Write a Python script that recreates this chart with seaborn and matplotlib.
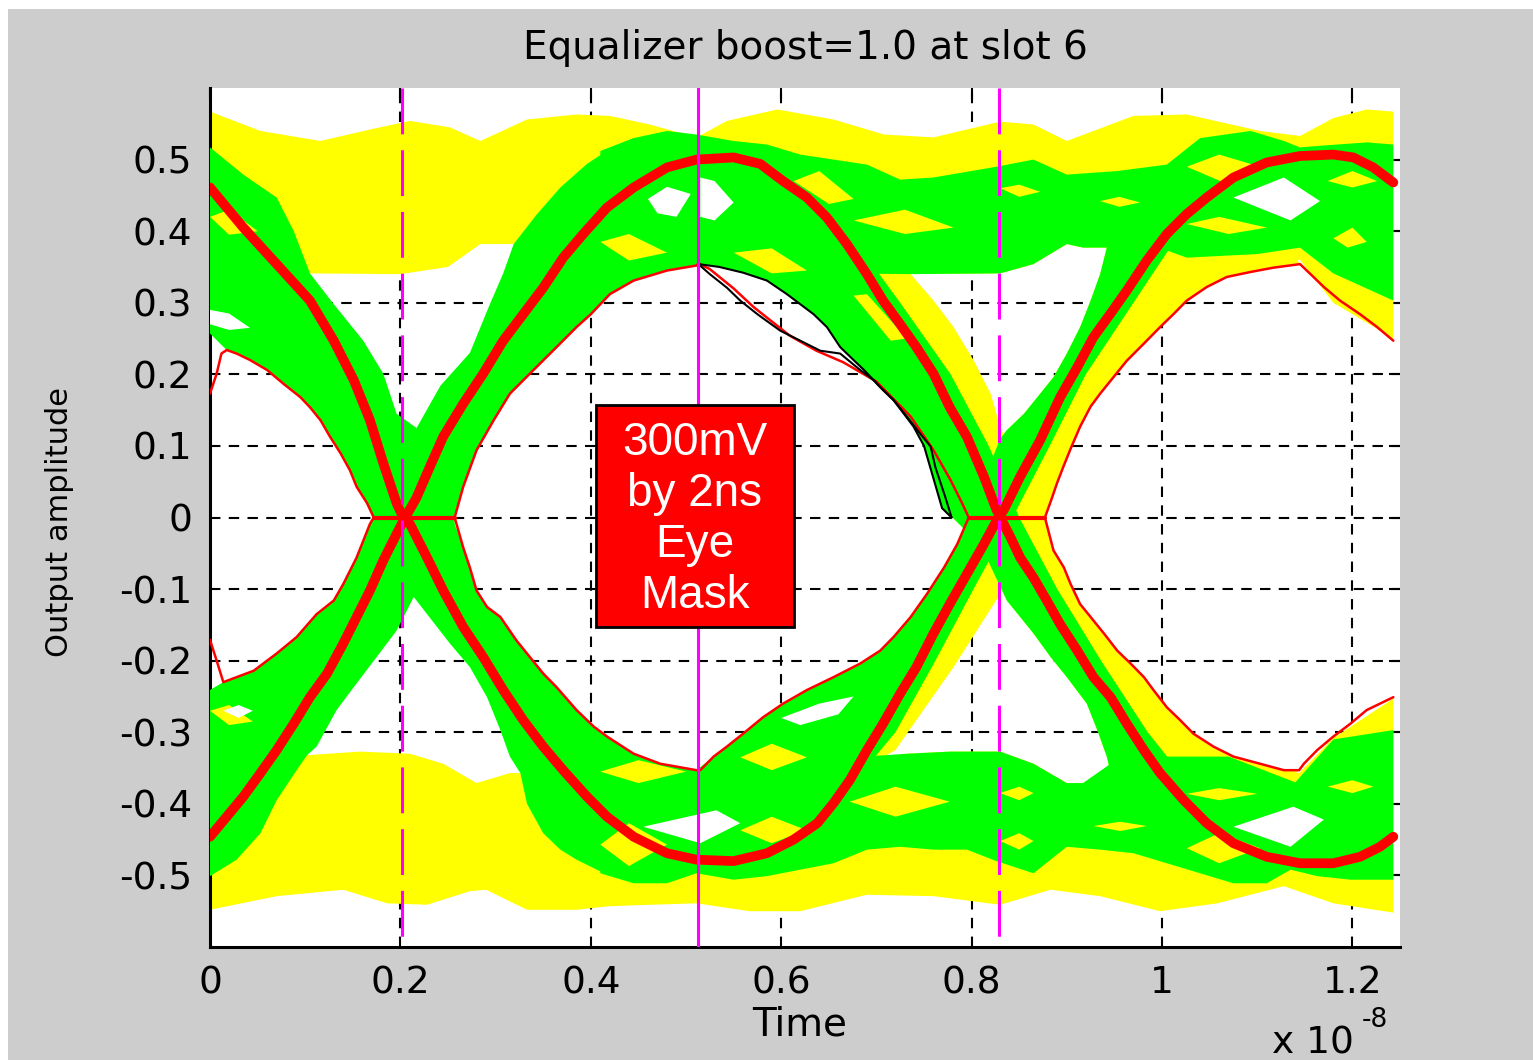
import matplotlib
matplotlib.use("Agg")
import matplotlib.pyplot as plt
from matplotlib.patches import Rectangle
import seaborn as sns

# time axis is in units of 1e-8 s, amplitude in V

# upper rail (yellow) outline: top edge left->right, bottom edge right->left
yu_top_x = [0, 0.053, 0.116, 0.168, 0.21, 0.252, 0.284, 0.333, 0.385, 0.42, 0.462, 0.511, 0.543, 0.596,
            0.655, 0.708, 0.76, 0.83, 0.865, 0.9, 0.97, 1.026, 1.103, 1.145, 1.18, 1.215, 1.243]
yu_top_y = [0.567, 0.54, 0.526, 0.542, 0.554, 0.545, 0.526, 0.556, 0.563, 0.561, 0.549, 0.531, 0.554, 0.57,
            0.556, 0.535, 0.531, 0.553, 0.549, 0.526, 0.561, 0.563, 0.54, 0.533, 0.558, 0.57, 0.567]
yu_bot_x = [1.243, 1.18, 1.145, 1.1, 1.026, 0.99, 0.942, 0.917, 0.9, 0.865, 0.83, 0.736, 0.6, 0.513,
            0.45, 0.4, 0.343, 0.319, 0.284, 0.25, 0.2, 0.105, 0]
yu_bot_y = [0.25, 0.30, 0.36, 0.355, 0.322, 0.33, 0.377, 0.377, 0.382, 0.354, 0.341, 0.34, 0.36, 0.36,
            0.40, 0.42, 0.40, 0.382, 0.382, 0.35, 0.34, 0.341, 0.341]

# lower rail (yellow)
yl_bot_x = [0, 0.07, 0.14, 0.186, 0.228, 0.273, 0.29, 0.333, 0.385, 0.42, 0.462, 0.511, 0.567, 0.62,
            0.69, 0.76, 0.83, 0.883, 0.935, 0.998, 1.058, 1.128, 1.18, 1.243]
yl_bot_y = [-0.548, -0.529, -0.52, -0.539, -0.541, -0.522, -0.52, -0.548, -0.548, -0.543, -0.541, -0.539,
            -0.55, -0.55, -0.527, -0.529, -0.541, -0.52, -0.529, -0.55, -0.539, -0.515, -0.539, -0.552]
yl_top_x = [1.243, 1.18, 1.144, 1.08, 1.0, 0.946, 0.917, 0.9, 0.865, 0.83, 0.778, 0.732, 0.62, 0.513,
            0.42, 0.326, 0.315, 0.28, 0.245, 0.21, 0.158, 0.102, 0]
yl_top_y = [-0.253, -0.308, -0.357, -0.34, -0.31, -0.357, -0.371, -0.371, -0.344, -0.327, -0.327, -0.33,
            -0.36, -0.36, -0.36, -0.357, -0.357, -0.371, -0.344, -0.33, -0.327, -0.332, -0.332]

# upper green band (right part)
gu_top_x = [0.41, 0.445, 0.48, 0.511, 0.55, 0.585, 0.62, 0.655, 0.69, 0.725, 0.76, 0.826, 0.865, 0.9,
            0.953, 1.005, 1.04, 1.093, 1.128, 1.145, 1.163, 1.215, 1.243]
gu_top_y = [0.512, 0.53, 0.54, 0.535, 0.526, 0.521, 0.507, 0.5, 0.493, 0.472, 0.475, 0.49, 0.5, 0.479,
            0.484, 0.493, 0.53, 0.54, 0.526, 0.517, 0.519, 0.524, 0.521]
gu_bot_x = [1.243, 1.18, 1.145, 1.1, 1.026, 0.97, 0.942, 0.917, 0.9, 0.865, 0.83, 0.736, 0.56, 0.535,
            0.513, 0.511, 0.48, 0.445, 0.41]
gu_bot_y = [0.303, 0.341, 0.377, 0.368, 0.363, 0.39, 0.377, 0.377, 0.382, 0.354, 0.341, 0.34, 0.342, 0.35,
            0.355, 0.352, 0.345, 0.331, 0.303]

# lower green band (right part)
gl_bot_x = [0.41, 0.445, 0.48, 0.511, 0.55, 0.585, 0.62, 0.655, 0.69, 0.725, 0.76, 0.795, 0.826, 0.865,
            0.9, 0.935, 0.97, 1.005, 1.04, 1.075, 1.11, 1.135, 1.163, 1.198, 1.243]
gl_bot_y = [-0.497, -0.511, -0.511, -0.497, -0.506, -0.501, -0.492, -0.483, -0.464, -0.46, -0.464, -0.464,
            -0.48, -0.497, -0.46, -0.464, -0.469, -0.483, -0.497, -0.511, -0.511, -0.492, -0.501, -0.506, -0.506]
gl_top_x = [1.243, 1.18, 1.14, 1.07, 1.0, 0.946, 0.917, 0.9, 0.865, 0.83, 0.778, 0.732, 0.62, 0.513,
            0.511, 0.473, 0.445, 0.417, 0.41]
gl_top_y = [-0.297, -0.31, -0.37, -0.334, -0.334, -0.344, -0.371, -0.371, -0.344, -0.327, -0.327, -0.33,
            -0.34, -0.353, -0.353, -0.344, -0.33, -0.306, -0.30]

# first crossing, falling bundle (green)
lf_x = [0, 0, 0.0175, 0.028, 0.042, 0.06, 0.077, 0.095, 0.105, 0.116, 0.126, 0.137, 0.147, 0.154, 0.165,
        0.172, 0.19, 0.214, 0.228, 0.252, 0.273, 0.291, 0.305, 0.315, 0.326, 0.333, 0.35, 0.368, 0.385, 0.42,
        0.511, 0.511, 0.473, 0.445, 0.417, 0.403, 0.385, 0.364, 0.35, 0.336, 0.322, 0.305, 0.291, 0.28, 0.273,
        0.266, 0.257, 0.257, 0.24, 0.225, 0.217, 0.196, 0.182, 0.161, 0.13, 0.105, 0.088, 0.07, 0.035]
lf_y = [0.517, 0.257, 0.234, 0.229, 0.22, 0.206, 0.187, 0.168, 0.154, 0.136, 0.113, 0.09, 0.066, 0.043, 0.02,
        0.0, -0.05, -0.111, -0.135, -0.176, -0.209, -0.251, -0.297, -0.334, -0.357, -0.4, -0.441, -0.464,
        -0.478, -0.501, -0.45, -0.353, -0.344, -0.33, -0.306, -0.292, -0.269, -0.237, -0.218, -0.195, -0.172,
        -0.139, -0.125, -0.102, -0.07, -0.042, -0.009, 0.0, 0.043, 0.09, 0.125, 0.145, 0.201, 0.247, 0.298,
        0.341, 0.4, 0.447, 0.479]

# first crossing, rising bundle (green)
lr_x = [0, 0, 0.014, 0.046, 0.07, 0.091, 0.112, 0.13, 0.14, 0.154, 0.168, 0.172, 0.19, 0.217, 0.242, 0.273,
        0.294, 0.308, 0.319, 0.343, 0.368, 0.396, 0.42, 0.445, 0.445, 0.42, 0.4, 0.385, 0.364, 0.336, 0.315,
        0.298, 0.28, 0.266, 0.257, 0.235, 0.214, 0.196, 0.175, 0.151, 0.133, 0.112, 0.102, 0.091, 0.07, 0.053,
        0.028]
lr_y = [-0.501, -0.241, -0.23, -0.214, -0.19, -0.167, -0.135, -0.116, -0.093, -0.056, -0.009, 0.0, 0.05,
        0.125, 0.184, 0.23, 0.298, 0.341, 0.382, 0.423, 0.461, 0.494, 0.515, 0.53, 0.331, 0.312, 0.284, 0.266,
        0.238, 0.201, 0.173, 0.136, 0.094, 0.043, 0.0, -0.06, -0.111, -0.158, -0.195, -0.237, -0.269, -0.32,
        -0.332, -0.353, -0.395, -0.441, -0.478]

# second crossing, falling bundle: early edge, late edge, green/yellow split
rf_early_x = [0.513, 0.535, 0.56, 0.585, 0.606, 0.62, 0.634, 0.648, 0.662, 0.676, 0.687, 0.704, 0.718, 0.739,
              0.75, 0.757, 0.769, 0.78, 0.81, 0.837, 0.865, 0.883, 0.9, 0.921, 0.932, 0.942, 0.946, 0.99]
rf_early_y = [0.354, 0.35, 0.342, 0.331, 0.312, 0.298, 0.284, 0.266, 0.238, 0.22, 0.206, 0.182, 0.164, 0.127,
              0.1, 0.068, 0.013, 0.0, -0.04, -0.116, -0.162, -0.195, -0.223, -0.26, -0.297, -0.334, -0.357, -0.40]
rf_late_x = [1.1, 1.144, 1.128, 1.103, 1.075, 1.054, 1.033, 1.019, 1.005, 0.991, 0.981, 0.967, 0.953, 0.939,
             0.925, 0.914, 0.904, 0.897, 0.886, 0.879, 0.877, 0.85, 0.83, 0.82, 0.802, 0.781, 0.76, 0.736,
             0.68, 0.6]
rf_late_y = [-0.40, -0.353, -0.353, -0.344, -0.334, -0.32, -0.302, -0.283, -0.265, -0.241, -0.223, -0.204,
             -0.186, -0.162, -0.139, -0.121, -0.093, -0.07, -0.046, -0.005, 0.0, 0.06, 0.127, 0.173, 0.22,
             0.266, 0.303, 0.34, 0.42, 0.45]
rf_mid_x = [1.045, 0.985, 0.936, 0.89, 0.85, 0.818, 0.778, 0.725, 0.67, 0.62]
rf_mid_y = [-0.40, -0.30, -0.20, -0.10, 0.0, 0.10, 0.20, 0.30, 0.40, 0.47]

# second crossing, rising bundle
rr_early_x = [0.511, 0.529, 0.543, 0.56, 0.581, 0.602, 0.627, 0.655, 0.683, 0.704, 0.718, 0.736, 0.753, 0.771,
              0.785, 0.797, 0.815, 0.83, 0.837, 0.855, 0.869, 0.886, 0.9, 0.914, 0.925, 0.935, 0.942, 1.0]
rr_early_y = [-0.353, -0.334, -0.32, -0.302, -0.279, -0.26, -0.241, -0.223, -0.204, -0.186, -0.167, -0.139,
              -0.107, -0.07, -0.037, 0.0, 0.06, 0.11, 0.122, 0.145, 0.168, 0.196, 0.229, 0.266, 0.303, 0.34,
              0.377, 0.44]
rr_late_x = [1.1, 1.145, 1.117, 1.093, 1.068, 1.047, 1.026, 1.012, 0.998, 0.981, 0.963, 0.949, 0.935, 0.925,
             0.914, 0.904, 0.897, 0.89, 0.883, 0.877, 0.855, 0.83, 0.781, 0.732, 0.72, 0.70, 0.6]
rr_late_y = [0.44, 0.354, 0.349, 0.343, 0.336, 0.322, 0.303, 0.284, 0.266, 0.243, 0.219, 0.196, 0.173, 0.155,
             0.127, 0.096, 0.073, 0.049, 0.022, 0.0, -0.05, -0.107, -0.209, -0.302, -0.325, -0.34, -0.36]
rr_mid_x = [1.07, 1.02, 0.97, 0.92, 0.882, 0.843, 0.802, 0.762, 0.72, 0.67, 0.6]
rr_mid_y = [0.46, 0.40, 0.30, 0.20, 0.10, 0.0, -0.10, -0.20, -0.30, -0.38, -0.38]

# yellow streaks inside the green traces and white gaps
streak_x = [[1.026, 1.06, 1.103, 1.07], [1.174, 1.2, 1.226, 1.2], [1.026, 1.06, 1.11, 1.07],
            [0.83, 0.85, 0.872, 0.85], [0.935, 0.955, 0.977, 0.955], [1.18, 1.2, 1.215, 1.195],
            [0.613, 0.64, 0.676, 0.65], [0.676, 0.73, 0.781, 0.73], [0.55, 0.59, 0.627, 0.59],
            [0.41, 0.44, 0.48, 0.44], [0.676, 0.69, 0.732, 0.715], [0.557, 0.59, 0.627, 0.59],
            [0.557, 0.59, 0.627, 0.59], [0.672, 0.72, 0.777, 0.72], [0.41, 0.45, 0.5, 0.45],
            [0.41, 0.44, 0.48, 0.44], [0.83, 0.85, 0.865, 0.85], [0.83, 0.85, 0.865, 0.85],
            [0.928, 0.956, 0.984, 0.956], [1.026, 1.06, 1.1, 1.06], [1.026, 1.06, 1.103, 1.06],
            [1.174, 1.2, 1.222, 1.2], [0, 0.02, 0.05, 0.02], [0, 0.02, 0.045, 0.02]]
streak_y = [[0.49, 0.507, 0.49, 0.465], [0.47, 0.484, 0.47, 0.461], [0.41, 0.42, 0.405, 0.396],
            [0.46, 0.465, 0.455, 0.448], [0.442, 0.448, 0.44, 0.434], [0.39, 0.405, 0.385, 0.377],
            [0.47, 0.484, 0.445, 0.438], [0.415, 0.43, 0.405, 0.396], [0.37, 0.376, 0.345, 0.341],
            [0.385, 0.396, 0.37, 0.359], [0.31, 0.312, 0.25, 0.247], [-0.335, -0.316, -0.335, -0.353],
            [-0.437, -0.418, -0.437, -0.455], [-0.397, -0.376, -0.397, -0.418], [-0.355, -0.339, -0.355, -0.371],
            [-0.457, -0.427, -0.457, -0.487], [-0.385, -0.376, -0.385, -0.395], [-0.452, -0.441, -0.452, -0.464],
            [-0.431, -0.425, -0.431, -0.438], [-0.386, -0.378, -0.386, -0.395], [-0.462, -0.441, -0.462, -0.483],
            [-0.376, -0.367, -0.376, -0.385], [0.42, 0.43, 0.40, 0.395], [-0.27, -0.262, -0.285, -0.29]]
hole_x = [[0.46, 0.48, 0.505, 0.49, 0.47], [0.515, 0.53, 0.55, 0.53, 0.515], [1.075, 1.128, 1.166, 1.135],
          [1.075, 1.138, 1.17, 1.135], [0.455, 0.532, 0.557, 0.515], [0.6, 0.64, 0.676, 0.66, 0.62],
          [0, 0.02, 0.042, 0.02, 0], [0.014, 0.03, 0.045, 0.03]]
hole_y = [[0.445, 0.462, 0.452, 0.42, 0.425], [0.475, 0.47, 0.44, 0.415, 0.42], [0.447, 0.475, 0.442, 0.415],
          [-0.432, -0.404, -0.422, -0.46], [-0.432, -0.409, -0.427, -0.455], [-0.28, -0.26, -0.25, -0.275, -0.29],
          [0.29, 0.285, 0.265, 0.262, 0.27], [-0.27, -0.262, -0.27, -0.28]]

# reference traces (thick red)
red_a_x = [0, 0.035, 0.07, 0.105, 0.13, 0.151, 0.168, 0.182, 0.196, 0.203, 0.21, 0.228, 0.245, 0.266, 0.287,
           0.308, 0.329, 0.35, 0.371, 0.396, 0.417, 0.445, 0.48, 0.511, 0.55, 0.585, 0.613, 0.638, 0.655, 0.672,
           0.69, 0.707, 0.725, 0.742, 0.76, 0.777, 0.795, 0.813, 0.826, 0.834, 0.851, 0.872, 0.893, 0.911, 0.928,
           0.946, 0.963, 0.984, 1.005, 1.026, 1.047, 1.075, 1.11, 1.145, 1.18, 1.201, 1.222, 1.243]
red_a_y = [0.461, 0.405, 0.354, 0.303, 0.247, 0.192, 0.136, 0.076, 0.02, 0.0, -0.009, -0.056, -0.102, -0.153,
           -0.195, -0.241, -0.283, -0.32, -0.353, -0.39, -0.418, -0.446, -0.469, -0.478, -0.48, -0.469, -0.45,
           -0.427, -0.399, -0.367, -0.325, -0.288, -0.246, -0.209, -0.162, -0.121, -0.079, -0.037, -0.005, 0.011,
           0.057, 0.108, 0.168, 0.21, 0.252, 0.285, 0.317, 0.359, 0.396, 0.424, 0.447, 0.475, 0.496, 0.505,
           0.507, 0.503, 0.489, 0.468]
red_b_x = [0, 0.0175, 0.035, 0.053, 0.07, 0.088, 0.105, 0.123, 0.14, 0.154, 0.168, 0.182, 0.196, 0.203, 0.217,
           0.231, 0.245, 0.266, 0.287, 0.308, 0.329, 0.35, 0.371, 0.392, 0.417, 0.445, 0.48, 0.511, 0.55, 0.578,
           0.602, 0.627, 0.648, 0.669, 0.69, 0.707, 0.725, 0.742, 0.76, 0.777, 0.795, 0.813, 0.826, 0.841, 0.851,
           0.865, 0.879, 0.893, 0.911, 0.928, 0.946, 0.963, 0.981, 0.998, 1.023, 1.047, 1.075, 1.11, 1.145, 1.18,
           1.208, 1.229, 1.243]
red_b_y = [-0.446, -0.418, -0.39, -0.357, -0.325, -0.288, -0.251, -0.218, -0.176, -0.139, -0.102, -0.06,
           -0.023, -0.005, 0.028, 0.071, 0.113, 0.159, 0.201, 0.247, 0.284, 0.321, 0.363, 0.396, 0.433, 0.461,
           0.489, 0.5, 0.503, 0.494, 0.47, 0.447, 0.419, 0.382, 0.34, 0.303, 0.27, 0.238, 0.201, 0.154, 0.113,
           0.057, 0.011, -0.028, -0.056, -0.084, -0.116, -0.149, -0.186, -0.223, -0.251, -0.288, -0.325, -0.357,
           -0.395, -0.427, -0.455, -0.474, -0.483, -0.483, -0.474, -0.46, -0.446]

# inner eye boundary (thin red)
mask_up_x = [0, 0.007, 0.012, 0.0175, 0.028, 0.042, 0.06, 0.077, 0.095, 0.105, 0.116, 0.126, 0.137, 0.147,
             0.154, 0.165, 0.172, 0.257, 0.266, 0.28, 0.298, 0.315, 0.336, 0.364, 0.385, 0.4, 0.42, 0.445, 0.48,
             0.511, 0.513, 0.525, 0.55, 0.571, 0.609, 0.637, 0.665, 0.7, 0.736, 0.76, 0.778, 0.79, 0.797, 0.877,
             0.883, 0.89, 0.897, 0.904, 0.914, 0.925, 0.935, 0.949, 0.963, 0.981, 0.998, 1.012, 1.026, 1.047,
             1.068, 1.093, 1.117, 1.145, 1.156, 1.17, 1.187, 1.208, 1.226, 1.243]
mask_up_y = [0.173, 0.201, 0.229, 0.234, 0.229, 0.22, 0.206, 0.187, 0.168, 0.154, 0.136, 0.113, 0.09, 0.066,
             0.043, 0.02, 0.0, 0.0, 0.043, 0.094, 0.136, 0.173, 0.201, 0.238, 0.266, 0.284, 0.312, 0.331, 0.345,
             0.352, 0.355, 0.347, 0.32, 0.294, 0.254, 0.233, 0.217, 0.19, 0.141, 0.094, 0.052, 0.02, 0.0, 0.0,
             0.022, 0.049, 0.073, 0.096, 0.127, 0.155, 0.173, 0.196, 0.219, 0.243, 0.266, 0.284, 0.303, 0.322,
             0.336, 0.343, 0.349, 0.354, 0.34, 0.322, 0.303, 0.284, 0.266, 0.247]
mask_lo_x = [0, 0.007, 0.014, 0.046, 0.07, 0.091, 0.112, 0.13, 0.14, 0.154, 0.168, 0.172, 0.257, 0.266, 0.273,
             0.28, 0.291, 0.305, 0.322, 0.336, 0.35, 0.364, 0.385, 0.403, 0.417, 0.445, 0.473, 0.511, 0.515,
             0.529, 0.543, 0.56, 0.581, 0.602, 0.627, 0.655, 0.683, 0.704, 0.718, 0.736, 0.753, 0.771, 0.785,
             0.797, 0.877, 0.886, 0.897, 0.904, 0.914, 0.925, 0.939, 0.953, 0.967, 0.981, 0.991, 1.005, 1.019,
             1.033, 1.054, 1.075, 1.103, 1.128, 1.144, 1.149, 1.163, 1.18, 1.198, 1.215, 1.243]
mask_lo_y = [-0.171, -0.2, -0.23, -0.214, -0.19, -0.167, -0.135, -0.116, -0.093, -0.056, -0.009, 0.0, 0.0,
             -0.042, -0.07, -0.102, -0.125, -0.139, -0.172, -0.195, -0.218, -0.237, -0.269, -0.292, -0.306, -0.33,
             -0.344, -0.353, -0.353, -0.334, -0.32, -0.302, -0.279, -0.26, -0.241, -0.223, -0.204, -0.186, -0.167,
             -0.139, -0.107, -0.07, -0.037, 0.0, 0.0, -0.046, -0.07, -0.093, -0.121, -0.139, -0.162, -0.186,
             -0.204, -0.223, -0.241, -0.265, -0.283, -0.302, -0.32, -0.334, -0.344, -0.353, -0.353, -0.344,
             -0.325, -0.306, -0.288, -0.269, -0.251]

# black traces
black1_x = [0.513, 0.513, 0.535, 0.56, 0.585, 0.606, 0.62, 0.634, 0.648, 0.662, 0.676, 0.687, 0.704, 0.718,
            0.739, 0.75, 0.757, 0.769, 0.779]
black1_y = [0.396, 0.354, 0.35, 0.342, 0.331, 0.312, 0.298, 0.284, 0.266, 0.238, 0.22, 0.206, 0.182, 0.164,
            0.127, 0.1, 0.068, 0.013, 0.0]
black2_x = [0.513, 0.525, 0.543, 0.557, 0.575, 0.599, 0.62, 0.641, 0.662, 0.683, 0.697, 0.707, 0.718, 0.732,
            0.746, 0.757, 0.762, 0.772, 0.779]
black2_y = [0.354, 0.34, 0.321, 0.303, 0.284, 0.261, 0.247, 0.233, 0.229, 0.206, 0.192, 0.178, 0.164, 0.141,
            0.117, 0.099, 0.07, 0.03, 0.0]

# sampling markers
dashed_marks = [0.2017, 0.829]
center_mark = [0.513]

xticks = [0, 0.2, 0.4, 0.6, 0.8, 1.0, 1.2]
xtick_labels = ['0', '0.2', '0.4', '0.6', '0.8', '1', '1.2']
yticks = [-0.5, -0.4, -0.3, -0.2, -0.1, 0, 0.1, 0.2, 0.3, 0.4, 0.5]
ytick_labels = ['-0.5', '-0.4', '-0.3', '-0.2', '-0.1', '0', '0.1', '0.2', '0.3', '0.4', '0.5']

YEL = '#ffff00'
GRN = '#00ff00'
RED = '#ff0000'
MAG = '#ff00ff'

sns.set_style('white')
plt.rcParams['font.family'] = ['DejaVu Sans']
plt.rcParams['axes.unicode_minus'] = False
for key in ['text.color', 'axes.labelcolor', 'xtick.color', 'ytick.color', 'axes.edgecolor']:
    plt.rcParams[key] = 'black'

W, H = 1533, 1060
fig = plt.figure(figsize=(W / 100, H / 100), dpi=100)
fig.patch.set_facecolor('white')
fig.patches.append(Rectangle((8 / W, 0), 1, 1 - 9 / H, transform=fig.transFigure,
                             facecolor='#cdcdcd', edgecolor='none', zorder=-10))
ax = fig.add_axes([210 / W, 113 / H, 1190 / W, 859 / H])
ax.set_facecolor('white')

# yellow layer
ax.fill(yu_top_x + yu_bot_x, yu_top_y + yu_bot_y, color=YEL, lw=0, zorder=2)
ax.fill(yl_bot_x + yl_top_x, yl_bot_y + yl_top_y, color=YEL, lw=0, zorder=2)
ax.fill(rf_early_x + rf_late_x, rf_early_y + rf_late_y, color=YEL, lw=0, zorder=2)
ax.fill(rr_early_x + rr_late_x, rr_early_y + rr_late_y, color=YEL, lw=0, zorder=2)

# green layer
ax.fill(gu_top_x + gu_bot_x, gu_top_y + gu_bot_y, color=GRN, lw=0, zorder=3)
ax.fill(gl_bot_x + gl_top_x, gl_bot_y + gl_top_y, color=GRN, lw=0, zorder=3)
ax.fill(lf_x, lf_y, color=GRN, lw=0, zorder=3)
ax.fill(lr_x, lr_y, color=GRN, lw=0, zorder=3)
ax.fill(rf_early_x + rf_mid_x, rf_early_y + rf_mid_y, color=GRN, lw=0, zorder=3)
ax.fill(rr_early_x + rr_mid_x, rr_early_y + rr_mid_y, color=GRN, lw=0, zorder=3)

for sx, sy in zip(streak_x, streak_y):
    ax.fill(sx, sy, color=YEL, lw=0, zorder=4)
for hx, hy in zip(hole_x, hole_y):
    ax.fill(hx, hy, color='white', lw=0, zorder=4)

# eye boundary and traces
sns.lineplot(x=mask_up_x, y=mask_up_y, sort=False, estimator=None, color=RED, lw=1.8, ax=ax, zorder=5)
sns.lineplot(x=mask_lo_x, y=mask_lo_y, sort=False, estimator=None, color=RED, lw=1.8, ax=ax, zorder=5)
ax.plot([0.172, 0.257], [0, 0], color=RED, lw=3, zorder=5)
ax.plot([0.797, 0.877], [0, 0], color=RED, lw=3, zorder=5)
sns.lineplot(x=black1_x, y=black1_y, sort=False, estimator=None, color='black', lw=1.5, ax=ax, zorder=6)
sns.lineplot(x=black2_x, y=black2_y, sort=False, estimator=None, color='black', lw=1.5, ax=ax, zorder=6)
sns.lineplot(x=red_a_x, y=red_a_y, sort=False, estimator=None, color=RED, lw=7, ax=ax, zorder=7)
sns.lineplot(x=red_b_x, y=red_b_y, sort=False, estimator=None, color=RED, lw=7, ax=ax, zorder=7)

for xm in dashed_marks:
    ax.plot([xm, xm], [0.6, -0.6], color=MAG, lw=2.2, ls=(0, (15, 5.2)), zorder=8)
for xm in center_mark:
    ax.plot([xm, xm], [0.6, -0.6], color=MAG, lw=2.2, zorder=8)

# mask annotation box
ax.add_patch(Rectangle((0.405, -0.153), 0.208, 0.31, facecolor=RED, edgecolor='black', lw=2, zorder=9))
ax.text(0.509, -0.003, '300mV\nby 2ns\nEye\nMask', color='white', fontsize=33, ha='center', va='center',
        family=['Liberation Sans', 'DejaVu Sans'], linespacing=1.2, zorder=10)

ax.set_xlim(0, 1.25)
ax.set_ylim(-0.6, 0.6)
ax.set_xticks(xticks)
ax.set_xticklabels(xtick_labels)
ax.set_yticks(yticks)
ax.set_yticklabels(ytick_labels)
ax.grid(True, color='black', linestyle=(0, (5, 4)), linewidth=1.5)
ax.set_axisbelow(True)
ax.tick_params(direction='in', length=8, width=1.5, top=True, right=True, labelsize=27, pad=13,
               colors='black', labelcolor='black')
for side in ['top', 'right']:
    ax.spines[side].set_visible(False)
for side in ['left', 'bottom']:
    ax.spines[side].set_linewidth(2.2)
    ax.spines[side].set_color('black')

fig.text(805 / W, 1 - 48 / H, 'Equalizer boost=1.0 at slot 6', fontsize=28, ha='center', va='center',
         color='black')
fig.text(60 / W, 1 - 522 / H, 'Output amplitude', fontsize=22, rotation=90, ha='center', va='center',
         color='black')
fig.text(800 / W, 1 - 1025 / H, 'Time', fontsize=28, ha='center', va='center', color='black')
fig.text(1272 / W, 1 - 1043 / H, 'x 10', fontsize=27, ha='left', va='center', color='black')
fig.text(1362 / W, 1 - 1020 / H, '-8', fontsize=19, ha='left', va='center', color='black')

fig.savefig('out.png', dpi=100)
